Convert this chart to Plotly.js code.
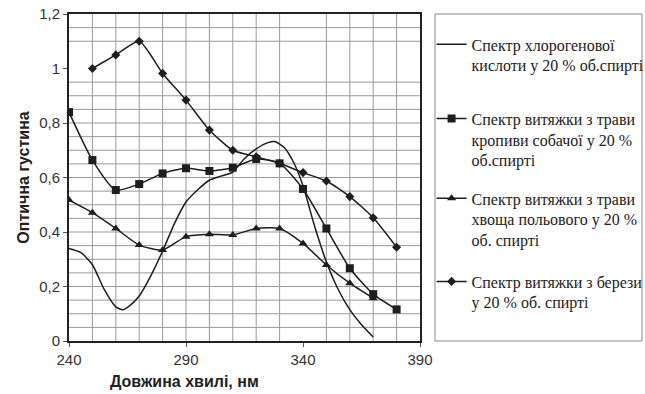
<!DOCTYPE html>
<html>
<head>
<meta charset="utf-8">
<script src="https://cdn.plot.ly/plotly-3.0.1.min.js"></script>
<style>html,body{margin:0;padding:0;background:#fff;}#chart{width:645px;height:394px;}</style>
</head>
<body>
<div id="chart"></div>
<script>
// ---- data ----
const chloroX = [240, 245, 250, 255, 260, 263, 266, 270, 275, 280, 285, 290, 295, 300, 305, 310, 315, 320, 325, 328, 332, 336, 340, 345, 350, 355, 360, 365, 370];
const chloroY = [0.34, 0.325, 0.28, 0.19, 0.125, 0.115, 0.13, 0.165, 0.24, 0.33, 0.43, 0.51, 0.555, 0.59, 0.605, 0.62, 0.67, 0.705, 0.728, 0.732, 0.71, 0.655, 0.57, 0.42, 0.29, 0.19, 0.115, 0.06, 0.015];

const nettleX = [240, 250, 260, 270, 280, 290, 300, 310, 320, 330, 340, 350, 360, 370, 380];
const nettleY = [0.84, 0.664, 0.554, 0.576, 0.615, 0.634, 0.624, 0.636, 0.668, 0.652, 0.558, 0.413, 0.267, 0.172, 0.116];

const horsetailX = [240, 250, 260, 270, 280, 290, 300, 310, 320, 330, 340, 350, 360, 370];
const horsetailY = [0.517, 0.471, 0.413, 0.352, 0.334, 0.383, 0.392, 0.389, 0.413, 0.413, 0.358, 0.279, 0.212, 0.157];

const birchX = [250, 260, 270, 280, 290, 300, 310, 320, 330, 340, 350, 360, 370, 380];
const birchY = [1.0, 1.05, 1.10, 0.982, 0.884, 0.774, 0.70, 0.676, 0.652, 0.618, 0.587, 0.53, 0.452, 0.344];

const seriesNames = [
  "Спектр хлорогенової<br>кислоти у 20 % об.спирті",
  "Спектр витяжки з трави<br>кропиви собачої у 20 %<br>об.спирті",
  "Спектр витяжки з трави<br>хвоща польового у 20 %<br>об. спирті",
  "Спектр витяжки з берези<br>у 20 % об. спирті"
];

const xTickVals = [240, 290, 340, 390];
const yTickVals = [0, 0.2, 0.4, 0.6, 0.8, 1.0, 1.2];
const gridX = [250, 260, 270, 280, 290, 300, 310, 320, 330, 350, 360, 370, 380];
const gridY = [0.05, 0.1, 0.15, 0.2, 0.25, 0.3, 0.35, 0.4, 0.45, 0.5, 0.55, 0.6, 0.65, 0.7, 0.75, 0.8, 0.85, 0.9, 0.95, 1.1, 1.15];

const xTitle = "Довжина хвилі, нм";
const yTitle = "Оптична густина";

// ---- styles ----
const ink = "#1e1e1e";
const lineStyle = {color: ink, width: 1.5, shape: "spline", smoothing: 0.6};

const traces = [
  {x: chloroX, y: chloroY, mode: "lines", name: seriesNames[0], legend: "legend", line: lineStyle},
  {x: nettleX, y: nettleY, mode: "lines+markers", name: seriesNames[1], legend: "legend2", line: lineStyle,
   marker: {symbol: "square", size: 8, color: ink}},
  {x: horsetailX, y: horsetailY, mode: "lines+markers", name: seriesNames[2], legend: "legend3", line: lineStyle,
   marker: {symbol: "triangle-up", size: 8, color: ink}},
  {x: birchX, y: birchY, mode: "lines+markers", name: seriesNames[3], legend: "legend4", line: lineStyle,
   marker: {symbol: "diamond", size: 7, color: ink}}
];

const shapes = [];
gridX.forEach(v => shapes.push({type: "line", layer: "below", xref: "x", yref: "paper", x0: v, x1: v, y0: 0, y1: 1,
  line: {color: "#9a9a9a", width: 1}}));
gridY.forEach(v => shapes.push({type: "line", layer: "below", xref: "paper", yref: "y", x0: 0, x1: 1, y0: v, y1: v,
  line: {color: "#9a9a9a", width: 1}}));
// legend frame
shapes.push({type: "rect", xref: "paper", yref: "paper", x0: 1.0427, x1: 1.6325, y0: 0, y1: 1,
  line: {color: "#8a8a8a", width: 1}, fillcolor: "rgba(0,0,0,0)"});

const legendFont = {family: "Liberation Serif, Times New Roman, serif", size: 16, color: "#222"};
function legendAt(y) {
  return {x: 1.033, xanchor: "left", y: y, yanchor: "top", valign: "top",
    font: legendFont, bgcolor: "rgba(0,0,0,0)", borderwidth: 0, itemwidth: 30};
}
const axisFont = {family: "Liberation Sans, Arial, sans-serif", size: 15, color: "#333"};
const titleFont = {family: "Liberation Sans, Arial, sans-serif", size: 16, color: "#222"};

const layout = {
  width: 645, height: 394,
  margin: {l: 69, r: 225, t: 14, b: 53, autoexpand: false},
  paper_bgcolor: "#fff", plot_bgcolor: "#fff",
  separators: ", ",
  showlegend: true,
  font: axisFont,
  xaxis: {
    range: [240, 390], tickmode: "array", tickvals: xTickVals,
    showgrid: false, zeroline: false,
    showline: true, linecolor: "#222", linewidth: 2, mirror: true,
    ticks: "outside", ticklen: 4, tickcolor: "#555",
    tickfont: axisFont
  },
  yaxis: {
    range: [0, 1.2], tickmode: "array", tickvals: yTickVals,
    showgrid: false, zeroline: false,
    showline: true, linecolor: "#222", linewidth: 2, mirror: true,
    ticks: "outside", ticklen: 4, tickcolor: "#555",
    tickfont: axisFont,
    title: {text: "<b>" + yTitle + "</b>", standoff: 6, font: titleFont}
  },
  legend: legendAt(0.959),
  legend2: legendAt(0.732),
  legend3: legendAt(0.488),
  legend4: legendAt(0.234),
  shapes: shapes,
  annotations: [
    {text: "<b>" + xTitle + "</b>", xref: "paper", yref: "paper", x: 0.33, y: -0.125,
     xanchor: "center", yanchor: "middle", showarrow: false, font: titleFont}
  ]
};

Plotly.newPlot("chart", traces, layout, {displayModeBar: false, staticPlot: true});
</script>
</body>
</html>
